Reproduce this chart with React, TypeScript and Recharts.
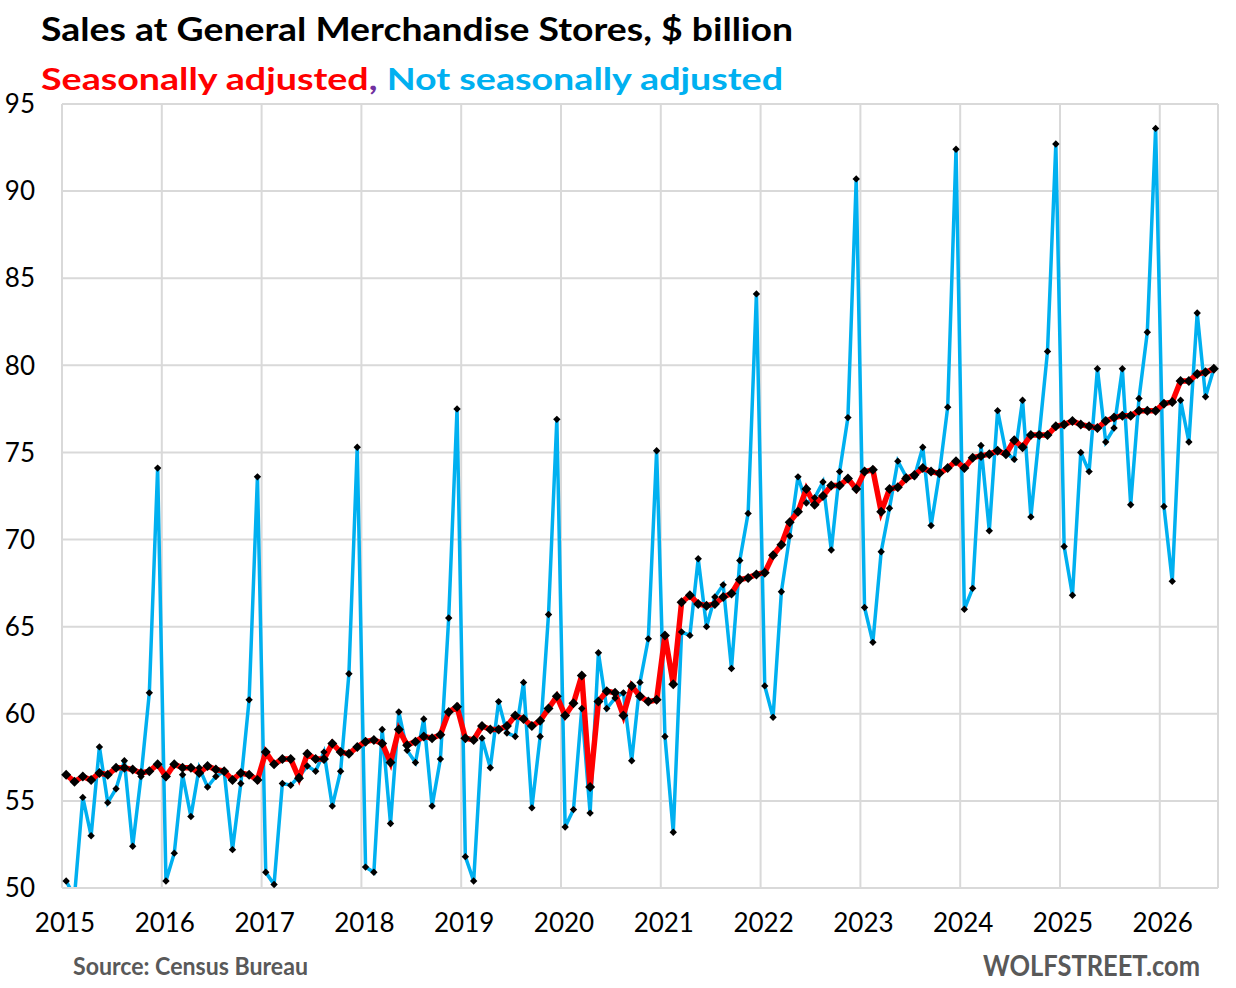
import { LineChart, Line, XAxis, YAxis, CartesianGrid } from 'recharts'

// Monthly, Jan 2015 .. Jul 2026
const years = ['2015', '2016', '2017', '2018', '2019', '2020', '2021', '2022', '2023', '2024', '2025', '2026']

// seasonally adjusted, $ billion
const seasonallyAdjusted = [
  56.5, 56.1, 56.4, 56.2, 56.6, 56.5, 56.9, 56.9, 56.8, 56.6, 56.7, 57.1,
  56.4, 57.1, 56.9, 56.9, 56.6, 57.0, 56.8, 56.7, 56.2, 56.6, 56.5, 56.2,
  57.8, 57.1, 57.4, 57.4, 56.3, 57.7, 57.4, 57.4, 58.3, 57.8, 57.7, 58.1,
  58.4, 58.5, 58.3, 57.2, 59.1, 58.2, 58.4, 58.7, 58.6, 58.8, 60.1, 60.4,
  58.6, 58.5, 59.3, 59.1, 59.1, 59.3, 59.9, 59.7, 59.3, 59.6, 60.3, 61.0,
  59.9, 60.6, 62.2, 55.8, 60.7, 61.3, 61.2, 59.9, 61.6, 61.0, 60.7, 60.8,
  64.5, 61.7, 66.4, 66.8, 66.3, 66.2, 66.3, 66.7, 66.9, 67.7, 67.8, 68.0,
  68.1, 69.1, 69.7, 71.0, 71.6, 72.9, 72.0, 72.5, 73.1, 73.1, 73.5, 72.9,
  73.9, 74.0, 71.6, 72.9, 73.0, 73.5, 73.7, 74.1, 73.9, 73.8, 74.1, 74.5,
  74.1, 74.7, 74.8, 74.9, 75.1, 74.9, 75.7, 75.3, 76.0, 76.0, 76.0, 76.5,
  76.6, 76.8, 76.6, 76.5, 76.4, 76.8, 77.0, 77.1, 77.1, 77.4, 77.4, 77.4,
  77.8, 77.9, 79.1, 79.1, 79.5, 79.6, 79.8,
]

// not seasonally adjusted, $ billion
const notSeasonallyAdjusted = [
  50.4, 49.5, 55.2, 53.0, 58.1, 54.9, 55.7, 57.3, 52.4, 56.4, 61.2, 74.1,
  50.4, 52.0, 56.5, 54.1, 56.9, 55.8, 56.4, 56.7, 52.2, 56.0, 60.8, 73.6,
  50.9, 50.2, 56.0, 55.9, 56.4, 57.0, 56.7, 57.8, 54.7, 56.7, 62.3, 75.3,
  51.2, 50.9, 59.1, 53.7, 60.1, 57.9, 57.2, 59.7, 54.7, 57.4, 65.5, 77.5,
  51.8, 50.4, 58.6, 56.9, 60.7, 58.9, 58.7, 61.8, 54.6, 58.7, 65.7, 76.9,
  53.5, 54.5, 60.3, 54.3, 63.5, 60.3, 60.9, 61.2, 57.3, 61.8, 64.3, 75.1,
  58.7, 53.2, 64.7, 64.5, 68.9, 65.0, 66.7, 67.4, 62.6, 68.8, 71.5, 84.1,
  61.6, 59.8, 67.0, 70.2, 73.6, 72.1, 72.4, 73.3, 69.4, 73.9, 77.0, 90.7,
  66.1, 64.1, 69.3, 71.8, 74.5, 73.6, 73.6, 75.3, 70.8, 73.8, 77.6, 92.4,
  66.0, 67.2, 75.4, 70.5, 77.4, 75.0, 74.6, 78.0, 71.3, 76.0, 80.8, 92.7,
  69.6, 66.8, 75.0, 73.9, 79.8, 75.6, 76.4, 79.8, 72.0, 78.1, 81.9, 93.6,
  71.9, 67.6, 78.0, 75.6, 83.0, 78.2, 79.8,
]

const yTicks = [50, 55, 60, 65, 70, 75, 80, 85, 90, 95]
const yearTicks = years.map((_, i) => i * 12 - 0.5)

const data = seasonallyAdjusted.map((v, i) => ({
  idx: i,
  sa: v,
  nsa: notSeasonallyAdjusted[i],
}))

const FONT = 'Lato, "Open Sans", sans-serif'

function diamond(r: number) {
  return (props: any) => {
    const { cx, cy, index } = props
    if (cx == null || cy == null) return <g key={index} />
    return (
      <path
        key={index}
        d={`M${cx},${cy - r}L${cx + r},${cy}L${cx},${cy + r}L${cx - r},${cy}Z`}
        fill="#000"
      />
    )
  }
}

export default function App() {
  return (
    <div
      style={{
        position: 'absolute',
        left: 0,
        top: 0,
        width: 1236,
        height: 988,
        background: '#fff',
        fontFamily: FONT,
      }}
    >
      <LineChart
        width={1236}
        height={988}
        data={data}
        margin={{ top: 104, right: 18, bottom: 0, left: 0 }}
      >
        <CartesianGrid stroke="#d9d9d9" strokeWidth={2} />
        <XAxis
          dataKey="idx"
          type="number"
          domain={[-0.5, 138.5]}
          ticks={yearTicks}
          tickFormatter={(t: number) => years[Math.round((t + 0.5) / 12)]}
          interval={0}
          height={100}
          tickSize={0}
          tickMargin={26}
          tickLine={false}
          axisLine={{ stroke: '#d9d9d9', strokeWidth: 2 }}
          tick={{ fontSize: 26, fill: '#000', fontFamily: FONT, dx: 3 }}
        />
        <YAxis
          type="number"
          domain={[50, 95]}
          ticks={yTicks}
          allowDataOverflow
          interval={0}
          width={62}
          tickSize={0}
          tickMargin={27}
          tickLine={false}
          axisLine={false}
          tick={{ fontSize: 26, fill: '#000', fontFamily: FONT }}
        />
        <Line
          dataKey="nsa"
          stroke="#00B0F0"
          strokeWidth={3.5}
          dot={diamond(3.7)}
          activeDot={false}
          isAnimationActive={false}
        />
        <Line
          dataKey="sa"
          stroke="#FF0000"
          strokeWidth={5.5}
          dot={diamond(5)}
          activeDot={false}
          isAnimationActive={false}
        />
      </LineChart>

      {/* titles and footer */}
      <svg
        width={1236}
        height={988}
        style={{ position: 'absolute', left: 0, top: 0, pointerEvents: 'none' }}
      >
        <text
          x={41}
          y={41}
          fontSize={33}
          fontWeight="bold"
          fontFamily={FONT}
          fill="#000"
          textLength={752}
          lengthAdjust="spacingAndGlyphs"
        >
          Sales at General Merchandise Stores, $ billion
        </text>
        <text
          x={41}
          y={90}
          fontSize={31}
          fontWeight="bold"
          fontFamily={FONT}
          textLength={742}
          lengthAdjust="spacingAndGlyphs"
        >
          <tspan fill="#FF0000">Seasonally adjusted</tspan>
          <tspan fill="#7030A0">,</tspan>
          <tspan fill="#00B0F0"> Not seasonally adjusted</tspan>
        </text>
        <text
          x={73}
          y={975}
          fontSize={24}
          fontWeight="bold"
          fontFamily={FONT}
          fill="#595959"
          textLength={235}
          lengthAdjust="spacingAndGlyphs"
        >
          Source: Census Bureau
        </text>
        <text
          x={983}
          y={976}
          fontSize={29}
          fontWeight="bold"
          fontFamily={FONT}
          fill="#595959"
          textLength={217}
          lengthAdjust="spacingAndGlyphs"
        >
          WOLFSTREET.com
        </text>
      </svg>
    </div>
  )
}
